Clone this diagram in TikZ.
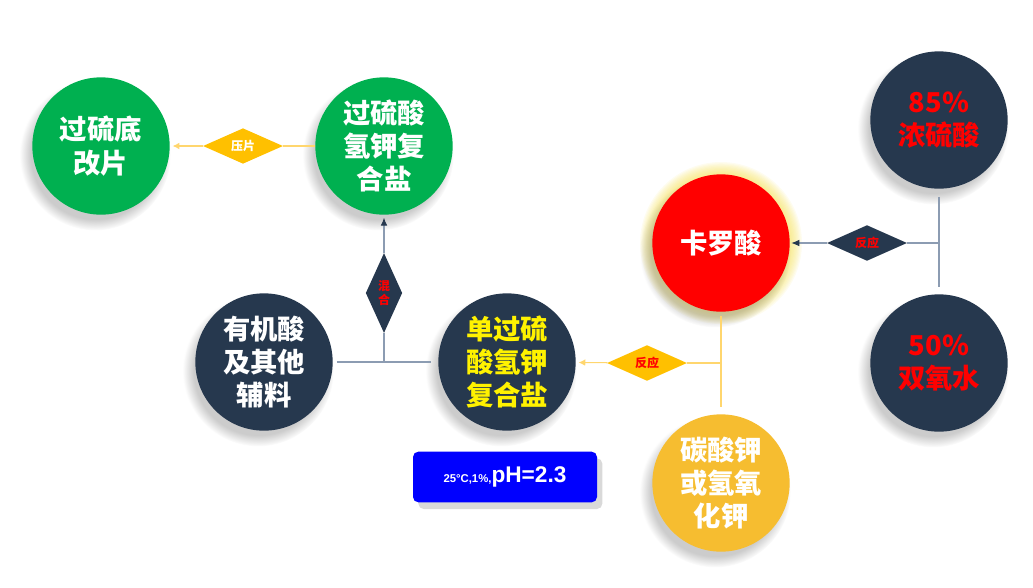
\documentclass[tikz,border=0pt]{standalone}
\usepackage{fontspec}
\setmainfont{Noto Sans CJK SC}
\newfontfamily\arialfont{Liberation Sans}
\usetikzlibrary{arrows.meta,shapes.geometric,shadows}
\definecolor{navygood}{RGB}{38,56,78}
\definecolor{greengood}{RGB}{0,176,80}
\definecolor{ambergood}{RGB}{255,192,0}
\definecolor{carbgood}{RGB}{246,189,48}
\definecolor{linegray}{RGB}{140,156,178}
\definecolor{lineamber}{RGB}{255,214,110}
\definecolor{glowgood}{RGB}{245,225,90}

\begin{document}
\begin{tikzpicture}[x=.75pt,y=-.75pt,
 ball/.style={circle,minimum size=103pt,inner sep=0pt,align=center,
  font=\fontsize{20.5}{25}\selectfont\bfseries,
  circular drop shadow={shadow xshift=-4pt,shadow yshift=-6pt,opacity=.4}},
 gem/.style={diamond,inner sep=0pt,minimum width=60pt,minimum height=25.5pt,
  font=\fontsize{9}{10}\selectfont\bfseries},
 grayline/.style={draw=linegray,line width=.8pt},
 amberline/.style={draw=lineamber,line width=.8pt}]
\useasboundingbox (0,0) rectangle (1033,587);
\foreach \i in {1,...,10}
 \fill[glowgood,opacity=.09] (721,243) circle ({69+\i*1.2});
\foreach \nm/\x/\y/\bg/\fg/\txt in {
 pian/101/146/greengood/white/{过硫底\\改片},
 fuhe/384/146/greengood/white/{过硫酸\\氢钾复\\合盐},
 aux/264/362/navygood/white/{有机酸\\及其他\\辅料},
 dan/507/362/navygood/yellow/{单过硫\\酸氢钾\\复合盐},
 karo/721/243/red/white/{卡罗酸},
 carb/721/483/carbgood/white/{碳酸钾\\或氢氧\\化钾},
 acid/939/120/navygood/red/{85\%\\浓硫酸},
 perox/939/363/navygood/red/{50\%\\双氧水}}
 \node[ball,fill=\bg,text=\fg] (\nm) at (\x,\y) {\txt};
\node[gem,fill=ambergood,text=white] (press) at (243,146) {压片};
\node[gem,fill=navygood,text=red,align=center,minimum width=25.5pt,minimum height=60pt] (mix) at (384,293) {混\\合};
\node[gem,fill=ambergood,text=red] (reactA) at (647,363) {反应};
\node[gem,fill=navygood,text=red] (reactB) at (867,243) {反应};
\coordinate (j1) at (karo.south |- reactA.east);
\coordinate (j2) at (acid.south |- reactB.east);
\coordinate (j3) at (mix.south |- aux.east);
\draw[amberline] (fuhe) -- (press);
\draw[amberline,-{Latex[length=5pt,width=5pt]},shorten >=2pt] (press) -- (pian);
\draw[amberline,shorten <=3pt,shorten >=5pt] (karo) -- (carb);
\draw[amberline] (j1) -- (reactA);
\draw[amberline,-{Latex[length=5pt,width=5pt]},shorten >=2pt] (reactA) -- (dan);
\draw[grayline,shorten <=6pt,shorten >=5pt] (acid) -- (perox);
\draw[grayline] (j2) -- (reactB);
\draw[grayline,-{Latex[color=navygood,length=6pt,width=5pt]},shorten >=1pt] (reactB) -- (karo);
\draw[grayline,shorten <=3pt,shorten >=5pt] (aux) -- (dan);
\draw[grayline] (j3) -- (mix);
\draw[grayline,-{Latex[color=navygood,length=6pt,width=5pt]},shorten >=2pt] (mix) -- (fuhe);
\node[rounded corners=4pt,fill=blue,minimum width=138pt,minimum height=38pt,text=white,
 font=\arialfont\bfseries,drop shadow={shadow xshift=4pt,shadow yshift=-5pt,opacity=.3}] (ph) at (505,477)
 {{\fontsize{8.5}{9}\selectfont 25°C,1\%,}{\fontsize{17}{18}\selectfont pH=2.3}};
\end{tikzpicture}
\end{document}
